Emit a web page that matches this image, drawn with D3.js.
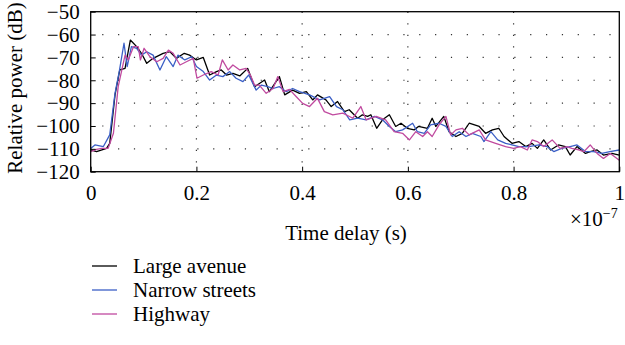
<!DOCTYPE html>
<html>
<head>
<meta charset="utf-8">
<script src="https://cdn.jsdelivr.net/npm/d3@7"></script>
<style>
  body { margin: 0; background: #fff; }
  svg { display: block; }
  svg text { font-family: "Liberation Serif", "Times New Roman", Tinos, Times, "DejaVu Serif", "Noto Serif", serif !important; fill: #000; }
</style>
</head>
<body>
<svg id="chart" width="625" height="345"></svg>
<script>
// Power delay profiles (delay in ns, relative power in dB)
const seriesNames = ["Large avenue", "Narrow streets", "Highway"];
const seriesColors = ["#000000", "#3b5fc6", "#c04a9f"];

const largeAvenueDelay = [0,1.1,3,3.6,4.6,5.5,6.5,7.5,8.7,9.6,10.6,11.8,13.7,15,16.2,17.7,18.7,20,21.3,22.5,23.8,24.7,25.7,26.9,28.2,29.7,31,32.9,33.8,35.7,36.7,38.2,39.5,40.8,42,42.9,44.5,45.5,46.7,48,48.9,50.5,51.4,52.4,53,54.1,55.2,56.5,57.7,58.7,59.9,61.2,62,63.7,64.6,65.3,66.8,67.8,69.1,70.3,71.6,73.5,74.7,76,77.2,78.2,79.7,81,82.3,83.5,84.5,85.7,87,88.5,89.8,90.7,92,93.6,94.5,95.8,97,98.6,100];
const largeAvenuePower = [-110.5,-111.2,-109.8,-107.6,-86.4,-75.5,-74.8,-62.4,-65.3,-68.2,-72.6,-70.4,-68.2,-67.5,-70.4,-68.2,-69,-71.1,-70,-77.7,-76.2,-75.5,-77.7,-77,-78.1,-74.8,-82.8,-79.9,-85,-78.4,-86.4,-84.3,-85.7,-85,-88.6,-86.4,-88.6,-91.5,-89.3,-93.7,-92.9,-96.6,-95.1,-95.8,-95.1,-101,-97.3,-95.1,-100.2,-98.8,-101,-101.7,-100.2,-101,-96.6,-100.2,-95.8,-102.5,-104.6,-103.2,-98.8,-100.2,-103.2,-101.7,-101,-104.6,-107.6,-106.8,-109,-107.6,-109.8,-106.1,-110.5,-108.3,-109,-112.7,-109,-112,-111.2,-110.5,-112.7,-112,-112.7];

const narrowStreetsDelay = [0,0.8,2.4,3.6,4.6,5.4,6.3,6.9,7.7,8.7,9.6,10.6,11.8,13.1,14.3,15.6,16.5,17.8,19.1,20,21.3,22.5,23.8,25,26.3,27.5,28.8,29.9,31.3,32.3,33.5,34.5,35.7,37,38.2,39.5,41.4,43.3,45.2,46.5,47.7,49,50.5,52.1,53.7,55.2,56.5,57.7,59,60.9,61.8,63.1,64.3,65.9,67.2,68.4,69.7,71,72.2,73.8,74.4,75.7,77,78.5,79.7,81,82.9,84.8,86.3,87.6,89.1,90.7,92,93.6,95.1,96.7,98.2,100];
const narrowStreetsPower = [-109.8,-108.3,-109,-103.9,-85.7,-76.2,-63.8,-74,-65.3,-66,-69,-67.5,-69,-75.5,-69.7,-74,-69,-71.1,-69.7,-74,-76.2,-79.9,-77.7,-78.4,-76.2,-79.1,-80.6,-77.7,-84.3,-82.1,-82.8,-83.6,-82.8,-85,-83.6,-85,-86.4,-88.6,-87.2,-91.5,-92.9,-97.3,-96.6,-97.3,-95.8,-97.3,-100.2,-102.5,-101.7,-98.8,-102.5,-103.2,-99.5,-98.8,-100.2,-104.6,-102.5,-104.6,-103.2,-104.6,-106.8,-102.5,-106.1,-107.6,-108.3,-109,-109,-108.3,-109,-111.2,-109.8,-109,-108.3,-111.2,-111.2,-112,-111.2,-110.5];

const highwayDelay = [0,1.1,2.1,3.3,4.3,5.2,6.5,7.1,8.1,9,9.4,10.1,11.2,12.5,13.7,14.7,15.6,16.9,18.1,19.4,20.1,21.3,22.8,24.1,24.9,26,26.9,28.2,29.4,30.2,31,31.9,33.2,34.5,35.4,36.4,37.6,38.9,40.1,41.4,42.3,42.9,44.2,45.8,47.7,49.6,51.1,52.1,54,55.8,57.4,59,60.3,61.5,62.8,63.7,64.6,65.9,67.2,68.1,69.1,70.3,71.6,73.5,74.7,76.6,78.5,80,81.3,82.6,83.5,84.5,85.7,87.3,88.8,90.1,91,92.3,93.3,94.5,95.8,97,98.3,100];
const highwayPower = [-111.2,-110.2,-109.8,-109.8,-103.2,-82.8,-69,-71.1,-65.3,-65.3,-71.1,-66,-69.7,-71.9,-70.4,-66.8,-68.2,-73.3,-71.9,-70.4,-79.1,-77.7,-76.2,-77.7,-71.1,-75.5,-73.3,-75.5,-74.8,-77.7,-82.1,-82.1,-85.7,-83.6,-78.4,-85,-84,-87.2,-90.1,-91.5,-89.3,-87.9,-93.7,-95.1,-94.4,-96.6,-91.5,-97.3,-95.8,-97.3,-102.5,-103.2,-106.1,-102.5,-104.6,-102.5,-104.6,-99.5,-95.8,-103.9,-101.7,-101,-103.9,-101.7,-106.1,-107.6,-109,-109.8,-109,-110.5,-106.1,-106.8,-109,-106.1,-109.8,-109,-109.8,-110.5,-111.2,-108.3,-112,-114.2,-112,-115];

const xTickValues = [0, 20, 40, 60, 80, 100];
const xTickLabels = ["0", "0.2", "0.4", "0.6", "0.8", "1"];
const yTickValues = [-50, -60, -70, -80, -90, -100, -110, -120];
const yTickLabels = ["\u221250", "\u221260", "\u221270", "\u221280", "\u221290", "\u2212100", "\u2212110", "\u2212120"];

const series = [
  { name: seriesNames[0], color: seriesColors[0], delay: largeAvenueDelay, power: largeAvenuePower },
  { name: seriesNames[1], color: seriesColors[1], delay: narrowStreetsDelay, power: narrowStreetsPower },
  { name: seriesNames[2], color: seriesColors[2], delay: highwayDelay, power: highwayPower }
];

const fontSize = 21;
const svg = d3.select("#chart");
const plot = { left: 90.7, right: 619.3, top: 11.7, bottom: 171.7 };

const x = d3.scaleLinear().domain([0, 100]).range([plot.left, plot.right]);
const y = d3.scaleLinear().domain([-120, -50]).range([plot.bottom, plot.top]);

// dotted grid
const grid = svg.append("g");
grid.selectAll("line.h").data(yTickValues.slice(1, -1)).join("line")
  .attr("x1", plot.left).attr("x2", plot.right)
  .attr("y1", d => y(d)).attr("y2", d => y(d))
  .attr("stroke", "#333").attr("stroke-width", 1.2)
  .attr("stroke-dasharray", "1.2,14.65").attr("stroke-dashoffset", -11.5);
grid.selectAll("line.v").data(xTickValues.slice(1, -1)).join("line")
  .attr("x1", d => x(d)).attr("x2", d => x(d))
  .attr("y1", plot.top).attr("y2", plot.bottom)
  .attr("stroke", "#333").attr("stroke-width", 1.2)
  .attr("stroke-dasharray", "1.2,10.3");

// series lines
const line = d3.line().x(d => x(d[0])).y(d => y(d[1]));
svg.append("g").selectAll("path").data(series).join("path")
  .attr("d", s => line(d3.zip(s.delay, s.power)))
  .attr("fill", "none")
  .attr("stroke", s => s.color)
  .attr("stroke-width", 1.3)
  .attr("stroke-linejoin", "round");

// frame
svg.append("rect")
  .attr("x", plot.left).attr("y", plot.top)
  .attr("width", plot.right - plot.left).attr("height", plot.bottom - plot.top)
  .attr("fill", "none").attr("stroke", "#000").attr("stroke-width", 1.3);

// axes with inward ticks
const xAxis = d3.axisBottom(x).tickValues(xTickValues)
  .tickFormat((d, i) => xTickLabels[i]).tickSizeInner(-5).tickSizeOuter(0).tickPadding(13);
const gx = svg.append("g").attr("transform", `translate(0,${plot.bottom})`).call(xAxis)
  .attr("font-family", null).attr("font-size", fontSize);
gx.select(".domain").remove();

const yAxis = d3.axisLeft(y).tickValues(yTickValues)
  .tickFormat((d, i) => yTickLabels[i]).tickSizeInner(-5).tickSizeOuter(0).tickPadding(11);
const gy = svg.append("g").attr("transform", `translate(${plot.left},0)`).call(yAxis)
  .attr("font-family", null).attr("font-size", fontSize);
gy.select(".domain").remove();

// axis titles
svg.append("text")
  .attr("x", 346).attr("y", 240)
  .attr("text-anchor", "middle").attr("font-size", fontSize)
  .text("Time delay (s)");

const expo = svg.append("text").attr("x", 570).attr("y", 226).attr("font-size", fontSize);
expo.append("tspan").text("\u00d710");
expo.append("tspan").attr("dy", -8).attr("font-size", 14).text("\u22127");

svg.append("text")
  .attr("transform", "translate(22,88) rotate(-90)")
  .attr("text-anchor", "middle").attr("font-size", fontSize)
  .text("Relative power (dB)");

// legend
const legend = svg.append("g").selectAll("g").data(series).join("g")
  .attr("transform", (d, i) => `translate(92,${266 + i * 24})`);
legend.append("line").attr("x1", 0).attr("x2", 25)
  .attr("stroke", d => d.color).attr("stroke-width", 1.3);
legend.append("text").attr("x", 41).attr("dy", "0.35em").attr("font-size", fontSize)
  .text(d => d.name);
</script>
</body>
</html>
